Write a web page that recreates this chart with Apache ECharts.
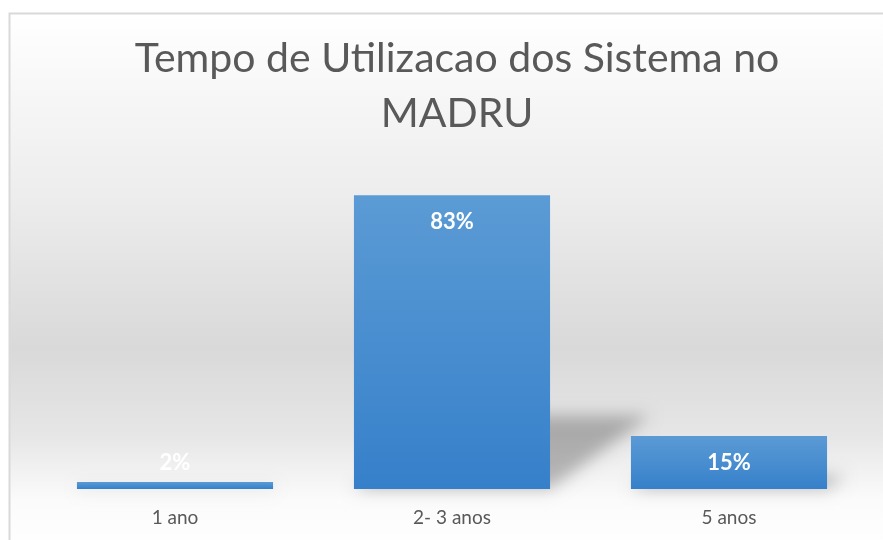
<!DOCTYPE html>
<html>
<head>
<meta charset="utf-8">
<script src="https://cdn.jsdelivr.net/npm/echarts@6/dist/echarts.min.js"></script>
<style>
  html, body { margin: 0; padding: 0; background: #fff; }
  #main { width: 883px; height: 540px; }
</style>
</head>
<body>
<div id="main"></div>
<script>
// dados do grafico
var titulo = 'Tempo de Utilizacao dos Sistema no\nMADRU';
var categorias = ['1 ano', '2- 3 anos', '5 anos'];
var valores = [2, 83, 15];

var myChart = echarts.init(document.getElementById('main'));

var barColor = new echarts.graphic.LinearGradient(0, 0, 0, 1, [
  { offset: 0, color: '#5b9bd5' },
  { offset: 1, color: '#3680ca' }
]);

// sombra em perspectiva atras de cada barra
function renderShadow(params, api) {
  var i = api.value(0);
  var base = api.coord([i, 0]);
  var top = api.coord([i, api.value(1)]);
  var w = api.size([1, 0])[0] * 0.708;
  var h = base[1] - top[1];
  var dx = h * 0.34, dy = h * 0.25;
  var x0 = base[0] - w / 2, x1 = base[0] + w / 2, y = base[1];
  var off = 3000;
  return {
    type: 'polygon',
    silent: true,
    shape: {
      points: [
        [x0 - off, y], [x1 - off, y],
        [x1 + dx - off, y - dy], [x0 + dx - off, y - dy]
      ]
    },
    style: {
      fill: '#000',
      shadowColor: 'rgba(0,0,0,0.26)',
      shadowBlur: 16,
      shadowOffsetX: off,
      shadowOffsetY: 0
    }
  };
}

myChart.setOption({
  animation: false,
  graphic: [{
    type: 'rect',
    silent: true,
    z: -10,
    shape: { x: 9.5, y: 13.5, width: 890, height: 540 },
    style: {
      fill: new echarts.graphic.LinearGradient(0, 0, 0, 1, [
        { offset: 0, color: '#ffffff' },
        { offset: 0.35, color: '#ececec' },
        { offset: 0.62, color: '#d9d9d9' },
        { offset: 0.78, color: '#e6e6e6' },
        { offset: 0.9, color: '#fbfbfb' },
        { offset: 1, color: '#ffffff' }
      ]),
      stroke: '#d9d9d9',
      lineWidth: 2
    }
  }],
  title: {
    text: titulo,
    left: 452,
    top: 26,
    textAlign: 'center',
    textStyle: {
      fontFamily: 'Lato',
      fontWeight: 'normal',
      fontSize: 41,
      lineHeight: 55,
      color: '#595959'
    }
  },
  grid: { left: 36.5, right: 15.5, top: 135, bottom: 51 },
  xAxis: {
    type: 'category',
    data: categorias,
    axisLine: { show: false },
    axisTick: { show: false },
    axisLabel: {
      margin: 19,
      fontFamily: 'Lato',
      fontSize: 19,
      color: '#595959'
    }
  },
  yAxis: {
    type: 'value',
    min: 0,
    max: 100,
    show: false,
    splitLine: { show: false }
  },
  series: [{
    type: 'custom',
    z: 1,
    renderItem: renderShadow,
    data: valores.map(function (v, i) { return [i, v]; })
  }, {
    type: 'bar',
    z: 2,
    barWidth: '70.8%',
    itemStyle: { color: barColor },
    label: {
      show: true,
      formatter: '{c}%',
      color: '#ffffff',
      fontFamily: 'Lato',
      fontWeight: 'bold',
      fontSize: 22
    },
    data: valores.map(function (v) {
      return {
        value: v,
        label: v < 5
          ? { position: 'top', distance: 8 }
          : { position: 'insideTop', distance: 16 }
      };
    })
  }]
});
</script>
</body>
</html>
